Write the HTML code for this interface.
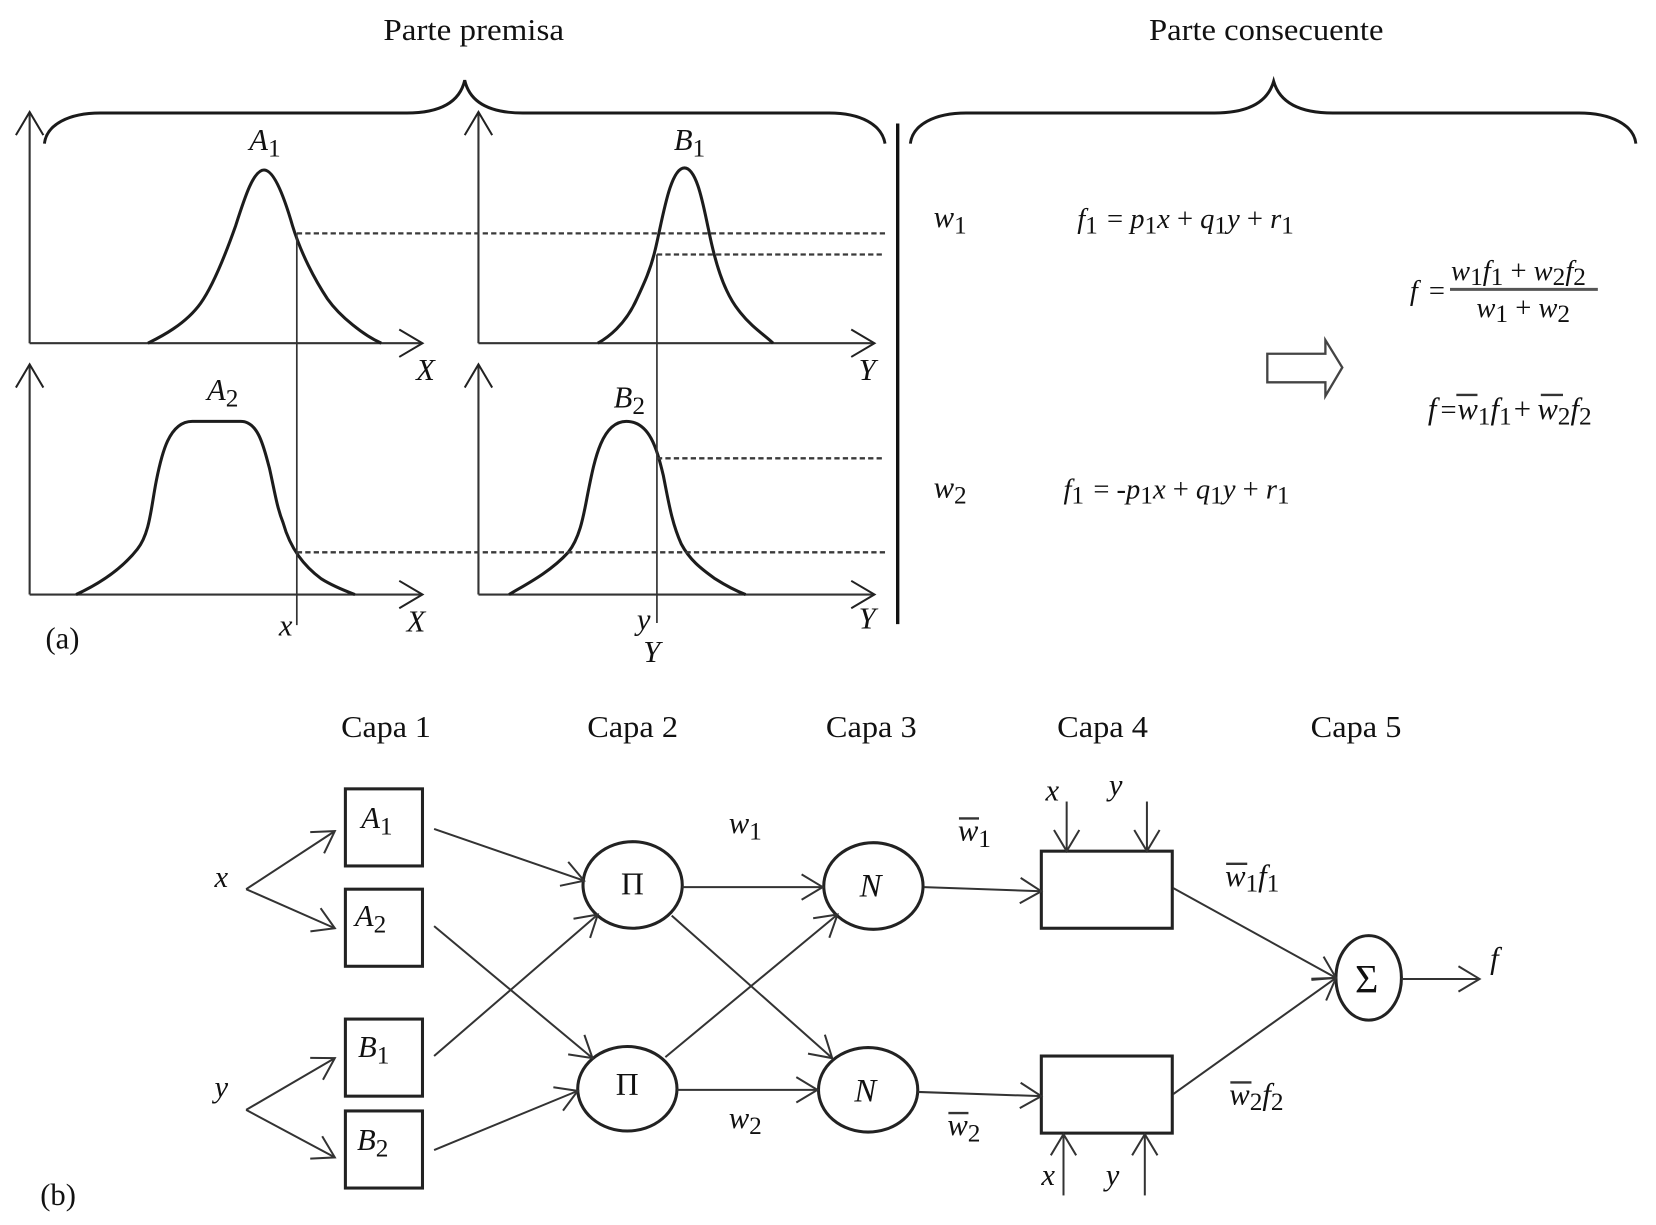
<!DOCTYPE html>
<html><head><meta charset="utf-8"><style>
html,body{margin:0;padding:0;background:#fff}
svg{display:block}
text{font-family:"Liberation Serif",serif;fill:#111}
.t{font-size:29px}
.m{font-size:27px;font-style:italic}
.l{font-size:29px;font-style:italic}
.s{font-style:normal;font-size:24px}
.r{font-style:normal}
</style></head><body>
<svg width="1656" height="1225" viewBox="0 0 1568 1160" xmlns="http://www.w3.org/2000/svg">
<defs>
<marker id="a" markerUnits="userSpaceOnUse" markerWidth="40" markerHeight="40" refX="30" refY="20" orient="auto" overflow="visible"><path d="M10,8 L30,20 L10,32" fill="none" stroke="#333" stroke-width="1.9"/></marker>
<marker id="b" markerUnits="userSpaceOnUse" markerWidth="40" markerHeight="40" refX="30" refY="20" orient="auto" overflow="visible"><path d="M8,7 L30,20 L8,33" fill="none" stroke="#222" stroke-width="1.9"/></marker>
</defs>

<text class="t" x="363" y="38" textLength="171" lengthAdjust="spacingAndGlyphs">Parte premisa</text>
<text class="t" x="1088" y="38" textLength="222" lengthAdjust="spacingAndGlyphs">Parte consecuente</text>

<!-- braces -->
<g fill="none" stroke="#1a1a1a" stroke-width="2.8">
<path d="M42,136 C44,118 65,107 95,107 L385,107 C415,107 435,98 440,76 C445,98 465,107 495,107 L785,107 C815,107 835,118 838,136"/>
<path d="M862,136 C864,118 885,107 915,107 L1150,107 C1180,107 1200,98 1206,77 C1212,98 1232,107 1262,107 L1495,107 C1525,107 1547,118 1549,136"/>
</g>
<line x1="850" y1="117" x2="850" y2="591" stroke="#111" stroke-width="3.2"/>

<!-- axes -->
<g fill="none" stroke="#333" stroke-width="2">
<path d="M28,325 V106" marker-end="url(#b)"/>
<path d="M28,325 H400" marker-end="url(#b)"/>
<path d="M28,563 V345" marker-end="url(#b)"/>
<path d="M28,563 H400" marker-end="url(#b)"/>
<path d="M453,325 V106" marker-end="url(#b)"/>
<path d="M453,325 H828" marker-end="url(#b)"/>
<path d="M453,563 V345" marker-end="url(#b)"/>
<path d="M453,563 H828" marker-end="url(#b)"/>
</g>

<!-- membership curves -->
<g fill="none" stroke="#1c1c1c" stroke-width="2.9">
<path d="M140,325 C150,320 175,308 190,287 C200,273 212,245 223,214 C232,186 240,161 250,161 C260,161 270,190 277,214 C285,240 298,265 310,283 C322,300 345,318 361,325"/>
<path d="M566,325 C575,320 592,308 603,283 C610,268 616,255 620,238 C627,210 634,159 648,159 C660,159 666,195 671,218 C675,238 680,258 688,275 C694,288 698,292 701,296 C712,310 725,318 732,325"/>
<path d="M72,563 C85,557 112,543 130,520 C142,505 143,480 148,455 C153,430 160,399 182,399 L228,399 C245,399 250,425 255,443 C260,465 262,480 268,495 C275,520 288,536 304,548 C315,555 328,560 336,563"/>
<path d="M482,563 C493,556 520,543 538,523 C550,508 553,485 557,465 C563,435 570,399 593,399 C615,399 622,425 628,450 C633,475 636,495 645,515 C653,530 663,538 677,548 C688,555 698,560 706,563"/>
</g>

<!-- guides -->
<g fill="none" stroke="#333" stroke-width="1.6">
<line x1="281" y1="221" x2="281" y2="592"/>
<line x1="622" y1="241" x2="622" y2="590"/>
</g>
<g fill="none" stroke="#3a3a3a" stroke-width="2.2" stroke-dasharray="5 3">
<line x1="281" y1="221" x2="838" y2="221"/>
<line x1="622" y1="241" x2="838" y2="241"/>
<line x1="622" y1="434" x2="838" y2="434"/>
<line x1="281" y1="523" x2="838" y2="523"/>
</g>

<!-- labels (a) -->
<text class="l" x="236" y="142">A<tspan class="s" dy="6">1</tspan></text>
<text class="l" x="638" y="142">B<tspan class="s" dy="6">1</tspan></text>
<text class="l" x="196" y="379">A<tspan class="s" dy="6">2</tspan></text>
<text class="l" x="581" y="386">B<tspan class="s" dy="6">2</tspan></text>
<text class="l" x="394" y="360">X</text>
<text class="l" x="813" y="360">Y</text>
<text class="l" x="385" y="598">X</text>
<text class="l" x="813" y="595">Y</text>
<text class="l" x="264" y="602">x</text>
<text class="l" x="603" y="596">y</text>
<text class="l" x="609" y="627">Y</text>
<text class="t" x="43" y="614">(a)</text>

<text class="l" x="884" y="215">w<tspan class="s" dy="6">1</tspan></text>
<text class="l" x="884" y="471">w<tspan class="s" dy="6">2</tspan></text>
<text class="m" x="1020" y="216">f<tspan class="s" dy="5">1</tspan><tspan class="r" dy="-5" dx="2"> = </tspan>p<tspan class="s" dy="5">1</tspan><tspan dy="-5">x</tspan><tspan class="r"> + </tspan>q<tspan class="s" dy="5">1</tspan><tspan dy="-5">y</tspan><tspan class="r"> + </tspan>r<tspan class="s" dy="5">1</tspan></text>
<text class="m" x="1007" y="472">f<tspan class="s" dy="5">1</tspan><tspan class="r" dy="-5" dx="2"> = -</tspan>p<tspan class="s" dy="5">1</tspan><tspan dy="-5">x</tspan><tspan class="r"> + </tspan>q<tspan class="s" dy="5">1</tspan><tspan dy="-5">y</tspan><tspan class="r"> + </tspan>r<tspan class="s" dy="5">1</tspan></text>

<text class="m" x="1335" y="284">f</text>
<text class="m r" x="1353" y="284">=</text>
<line x1="1373" y1="274" x2="1513" y2="274" stroke="#555" stroke-width="2.8"/>
<text class="m" x="1374" y="265">w<tspan class="s" dy="5">1</tspan><tspan dy="-5">f</tspan><tspan class="s" dy="5">1</tspan><tspan class="r" dy="-5"> + </tspan>w<tspan class="s" dy="5">2</tspan><tspan dy="-5">f</tspan><tspan class="s" dy="5">2</tspan></text>
<text class="m" x="1398" y="300">w<tspan class="s" dy="5">1</tspan><tspan class="r" dy="-5"> + </tspan>w<tspan class="s" dy="5">2</tspan></text>

<path d="M1200,335 H1255 V322 L1271,348 L1255,375 V362 H1200 Z" fill="#fff" stroke="#444" stroke-width="2.2"/>

<text class="l" x="1352" y="397">f</text>
<text class="m r" x="1364" y="397">=</text>
<text class="l" x="1380" y="397">w<tspan class="s" dy="5">1</tspan><tspan dy="-5">f</tspan><tspan class="s" dy="5">1</tspan><tspan class="r" dy="-5" dx="2">+</tspan><tspan dx="6">w</tspan><tspan class="s" dy="5">2</tspan><tspan dy="-5">f</tspan><tspan class="s" dy="5">2</tspan></text>
<line x1="1379" y1="374" x2="1399" y2="374" stroke="#333" stroke-width="2.2"/>
<line x1="1459" y1="374" x2="1480" y2="374" stroke="#333" stroke-width="2.2"/>

<!-- (b) -->
<text class="t" x="323" y="698" textLength="85" lengthAdjust="spacingAndGlyphs">Capa 1</text>
<text class="t" x="556" y="698" textLength="86" lengthAdjust="spacingAndGlyphs">Capa 2</text>
<text class="t" x="782" y="698" textLength="86" lengthAdjust="spacingAndGlyphs">Capa 3</text>
<text class="t" x="1001" y="698" textLength="86" lengthAdjust="spacingAndGlyphs">Capa 4</text>
<text class="t" x="1241" y="698" textLength="86" lengthAdjust="spacingAndGlyphs">Capa 5</text>
<text class="t" x="38" y="1141">(b)</text>

<g fill="#fff" stroke="#222" stroke-width="2.9">
<rect x="327" y="747" width="73" height="73"/>
<rect x="327" y="842" width="73" height="73"/>
<rect x="327" y="965" width="73" height="73"/>
<rect x="327" y="1052" width="73" height="73"/>
<rect x="986" y="806" width="124" height="73"/>
<rect x="986" y="1000" width="124" height="73"/>
<ellipse cx="599" cy="838" rx="47" ry="41"/>
<ellipse cx="594" cy="1031" rx="47" ry="40"/>
<ellipse cx="827" cy="839" rx="47" ry="41"/>
<ellipse cx="822" cy="1032" rx="47" ry="40"/>
<ellipse cx="1296" cy="926" rx="31" ry="40"/>
</g>

<g fill="none" stroke="#333" stroke-width="1.9">
<path d="M233,842 L317,787" marker-end="url(#a)"/>
<path d="M233,842 L317,879" marker-end="url(#a)"/>
<path d="M233,1051 L317,1002" marker-end="url(#a)"/>
<path d="M233,1051 L317,1096" marker-end="url(#a)"/>
<path d="M411,785 L553,834" marker-end="url(#a)"/>
<path d="M411,877 L561,1002" marker-end="url(#a)"/>
<path d="M411,1000 L566,866" marker-end="url(#a)"/>
<path d="M411,1089 L547,1033" marker-end="url(#a)"/>
<path d="M646,840 H779" marker-end="url(#a)"/>
<path d="M636,867 L788,1002" marker-end="url(#a)"/>
<path d="M630,1001 L793,866" marker-end="url(#a)"/>
<path d="M641,1032 H774" marker-end="url(#a)"/>
<path d="M875,840 L986,844" marker-end="url(#a)"/>
<path d="M869,1034 L986,1038" marker-end="url(#a)"/>
<path d="M1111,841 L1265,926" marker-end="url(#a)"/>
<path d="M1111,1036 L1265,926" marker-end="url(#a)"/>
<path d="M1327,927 H1401" marker-end="url(#a)"/>
<path d="M1010,759 V806" marker-end="url(#a)"/>
<path d="M1086,759 V806" marker-end="url(#a)"/>
<path d="M1007,1132 V1074" marker-end="url(#a)"/>
<path d="M1084,1132 V1074" marker-end="url(#a)"/>
</g>

<text class="l" x="342" y="784">A<tspan class="s" dy="6">1</tspan></text>
<text class="l" x="336" y="877">A<tspan class="s" dy="6">2</tspan></text>
<text class="l" x="339" y="1001">B<tspan class="s" dy="6">1</tspan></text>
<text class="l" x="338" y="1089">B<tspan class="s" dy="6">2</tspan></text>
<text class="l" x="203" y="840">x</text>
<text class="l" x="203" y="1039">y</text>
<text class="t" x="588" y="847" style="font-size:30px">Π</text>
<text class="t" x="583" y="1037" style="font-size:30px">Π</text>
<text class="l" x="814" y="849" style="font-size:31px">N</text>
<text class="l" x="809" y="1043" style="font-size:31px">N</text>
<text class="t" x="1283" y="940" style="font-size:38px">Σ</text>
<text class="l" x="1411" y="917">f</text>
<text class="l" x="690" y="789">w<tspan class="s" dy="6">1</tspan></text>
<text class="l" x="690" y="1068">w<tspan class="s" dy="6">2</tspan></text>
<text class="l" x="907" y="796">w<tspan class="s" dy="6">1</tspan></text>
<line x1="908" y1="775" x2="927" y2="775" stroke="#333" stroke-width="2.2"/>
<text class="l" x="897" y="1075">w<tspan class="s" dy="6">2</tspan></text>
<line x1="898" y1="1054" x2="917" y2="1054" stroke="#333" stroke-width="2.2"/>
<text class="l" x="1160" y="839">w<tspan class="s" dy="5">1</tspan><tspan dy="-5">f</tspan><tspan class="s" dy="5">1</tspan></text>
<line x1="1161" y1="818" x2="1181" y2="818" stroke="#333" stroke-width="2.2"/>
<text class="l" x="1164" y="1046">w<tspan class="s" dy="5">2</tspan><tspan dy="-5">f</tspan><tspan class="s" dy="5">2</tspan></text>
<line x1="1165" y1="1025" x2="1185" y2="1025" stroke="#333" stroke-width="2.2"/>
<text class="l" x="990" y="758">x</text>
<text class="l" x="1050" y="753">y</text>
<text class="l" x="986" y="1122">x</text>
<text class="l" x="1047" y="1122">y</text>
</svg>
</body></html>
